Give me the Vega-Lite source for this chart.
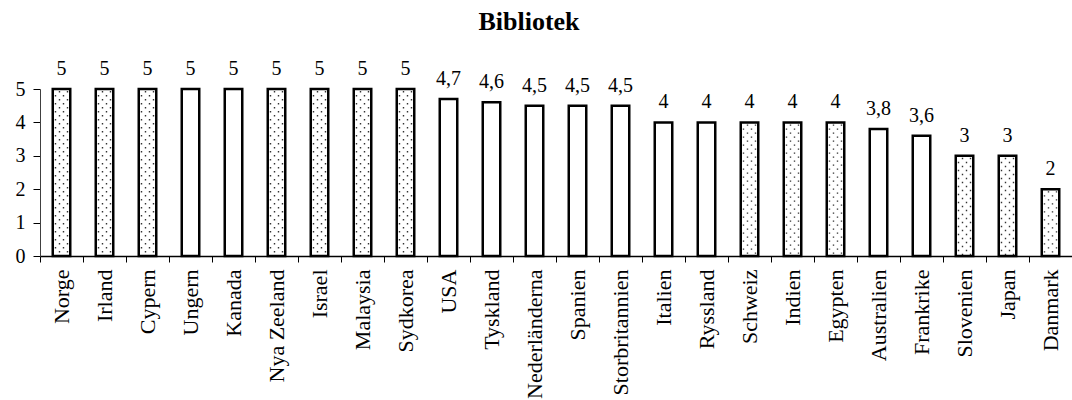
{
  "$schema": "https://vega.github.io/schema/vega-lite/v6.json",
  "autosize": "none",
  "padding": {"left": 40, "top": 89, "right": 0, "bottom": 144},
  "width": 1032,
  "height": 167,
  "background": "white",
  "title": {"text": "Bibliotek", "font": "Liberation Serif", "fontSize": 26, "fontWeight": "bold", "color": "black", "anchor": "middle", "dx": -27, "offset": 24},
  "data": {"values": [
    {"land": "Norge", "varde": 5, "grupp": "prickad"},
    {"land": "Irland", "varde": 5, "grupp": "prickad"},
    {"land": "Cypern", "varde": 5, "grupp": "prickad"},
    {"land": "Ungern", "varde": 5, "grupp": "vit"},
    {"land": "Kanada", "varde": 5, "grupp": "vit"},
    {"land": "Nya Zeeland", "varde": 5, "grupp": "prickad"},
    {"land": "Israel", "varde": 5, "grupp": "prickad"},
    {"land": "Malaysia", "varde": 5, "grupp": "prickad"},
    {"land": "Sydkorea", "varde": 5, "grupp": "prickad"},
    {"land": "USA", "varde": 4.7, "grupp": "vit"},
    {"land": "Tyskland", "varde": 4.6, "grupp": "vit"},
    {"land": "Nederländerna", "varde": 4.5, "grupp": "vit"},
    {"land": "Spanien", "varde": 4.5, "grupp": "vit"},
    {"land": "Storbritannien", "varde": 4.5, "grupp": "vit"},
    {"land": "Italien", "varde": 4, "grupp": "vit"},
    {"land": "Ryssland", "varde": 4, "grupp": "vit"},
    {"land": "Schweiz", "varde": 4, "grupp": "prickad"},
    {"land": "Indien", "varde": 4, "grupp": "prickad"},
    {"land": "Egypten", "varde": 4, "grupp": "prickad"},
    {"land": "Australien", "varde": 3.8, "grupp": "vit"},
    {"land": "Frankrike", "varde": 3.6, "grupp": "vit"},
    {"land": "Slovenien", "varde": 3, "grupp": "prickad"},
    {"land": "Japan", "varde": 3, "grupp": "prickad"},
    {"land": "Danmark", "varde": 2, "grupp": "prickad"}
  ]},
  "encoding": {
    "x": {
      "field": "land", "type": "nominal",
      "scale": {
        "domain": ["Norge", "Irland", "Cypern", "Ungern", "Kanada", "Nya Zeeland", "Israel", "Malaysia", "Sydkorea", "USA", "Tyskland", "Nederländerna", "Spanien", "Storbritannien", "Italien", "Ryssland", "Schweiz", "Indien", "Egypten", "Australien", "Frankrike", "Slovenien", "Japan", "Danmark"],
        "paddingInner": 0, "paddingOuter": 0
      },
      "axis": {
        "title": null, "bandPosition": 0, "labelOffset": 0, "labelAngle": -90,
        "labelFont": "Liberation Serif", "labelFontSize": 22, "labelColor": "black",
        "domainColor": "black", "domainWidth": 1.5, "tickColor": "black", "tickWidth": 1, "tickSize": 6,
        "labelPadding": 7, "grid": false, "labelOverlap": false
      }
    },
    "y": {
      "field": "varde", "type": "quantitative",
      "scale": {"domain": [0, 5], "nice": false, "zero": true},
      "axis": {
        "title": null, "values": [0, 1, 2, 3, 4, 5], "grid": false, "labelOverlap": false,
        "labelFont": "Liberation Serif", "labelFontSize": 20, "labelColor": "black",
        "domainColor": "#404040", "domainWidth": 1, "tickColor": "black", "tickWidth": 1, "tickSize": 7,
        "labelPadding": 8
      }
    }
  },
  "layer": [
    {
      "transform": [{"filter": "datum.grupp === 'prickad'"}],
      "mark": {"type": "rule", "xOffset": -6, "stroke": "#333333", "strokeWidth": 1.4, "strokeDash": [1.4, 6.6], "strokeDashOffset": 2},
      "encoding": {"y2": {"datum": 0}}
    },
    {
      "transform": [{"filter": "datum.grupp === 'prickad'"}],
      "mark": {"type": "rule", "xOffset": -2, "stroke": "#333333", "strokeWidth": 1.4, "strokeDash": [1.4, 6.6], "strokeDashOffset": 6},
      "encoding": {"y2": {"datum": 0}}
    },
    {
      "transform": [{"filter": "datum.grupp === 'prickad'"}],
      "mark": {"type": "rule", "xOffset": 2, "stroke": "#333333", "strokeWidth": 1.4, "strokeDash": [1.4, 6.6], "strokeDashOffset": 2},
      "encoding": {"y2": {"datum": 0}}
    },
    {
      "transform": [{"filter": "datum.grupp === 'prickad'"}],
      "mark": {"type": "rule", "xOffset": 6, "stroke": "#333333", "strokeWidth": 1.4, "strokeDash": [1.4, 6.6], "strokeDashOffset": 6},
      "encoding": {"y2": {"datum": 0}}
    },
    {
      "mark": {"type": "bar", "width": 17.5, "filled": false, "stroke": "black", "strokeWidth": 2.5}
    },
    {
      "mark": {"type": "text", "baseline": "alphabetic", "dy": -14, "font": "Liberation Serif", "fontSize": 20, "color": "black"},
      "encoding": {
        "text": {"field": "varde", "type": "quantitative", "format": ".1~f"}
      }
    }
  ],
  "config": {
    "view": {"stroke": null},
    "locale": {"number": {"decimal": ",", "thousands": " ", "grouping": [3], "currency": ["", " kr"]}}
  }
}
